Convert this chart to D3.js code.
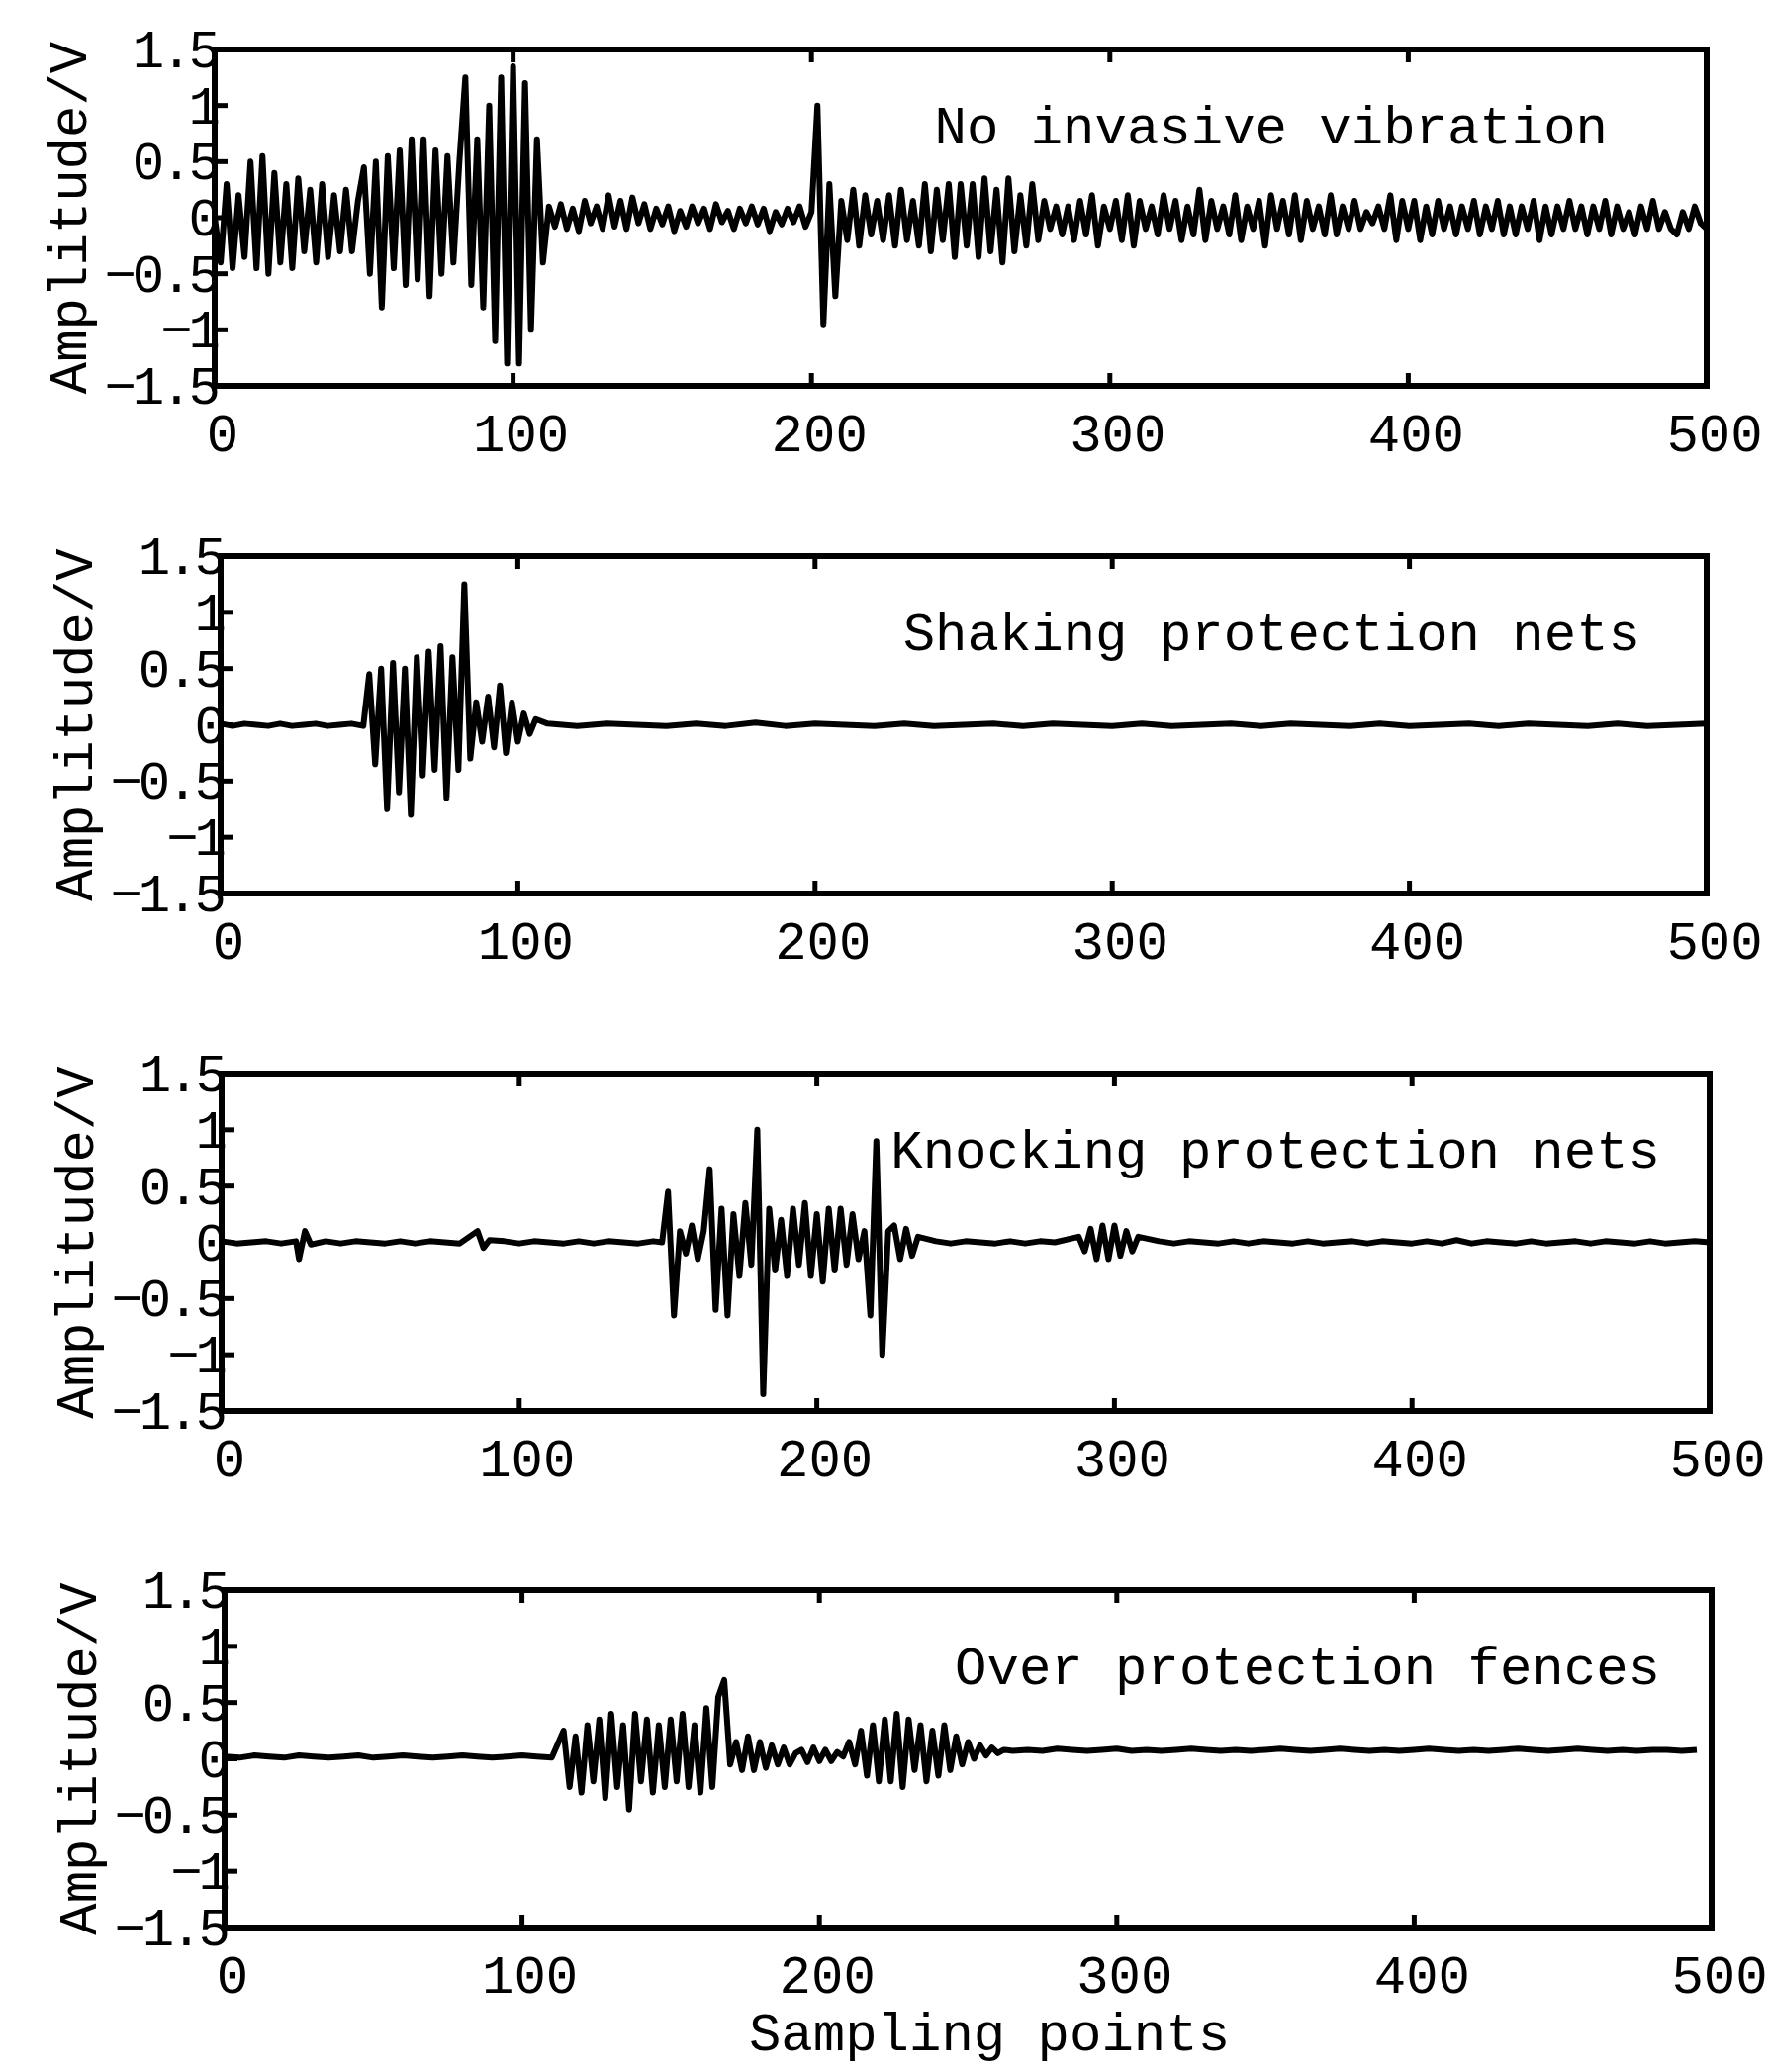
<!DOCTYPE html>
<html lang="en">
<head>
<meta charset="UTF-8">
<title>Vibration signals</title>
<style>
  body { margin: 0; background: #fff; }
  text { font-family: "Liberation Mono", monospace; fill: #000; }
</style>
</head>
<body>
<script src="https://d3js.org/d3.v7.min.js"></script>
<svg id="vis"></svg>
<script>
// Data (amplitudes in hundredths of a volt)
const titles = ['No invasive vibration', 'Shaking protection nets', 'Knocking protection nets', 'Over protection fences']
const xTicks = [0, 100, 200, 300, 400, 500]
const yTicks = [-1.5, -1, -0.5, 0, 0.5, 1, 1.5]
const yTickLabels = ['\u22121.5', '\u22121', '\u22120.5', '0', '0.5', '1', '1.5']

// segments: [start, step, values]
const signal1 = [
  [0, 2, [0,-40,30,-45,20,-35, 50,-45,55,-50,40,
    -40,30,-45,35,-30,25,-40,30,-35,20,-30,25,-30,15,
    45,-50,50,-80,55,-45,60,-60,70,-55,70,-70,60,-50,55,-40,50, 125,-60,
    70,-80,100,-110,125,-130,135,-130,120,-100,70,-40,
    10,-8,12,-10,8,-12,15,-5,10,-10, 20,-8,15,-10,18,-5,12,-10,8,-6,
    10,-12,6,-8,10,-5,8,-10,12,-4, 6,-10,8,-5,10,-6,8,-12,5,-6, 8,-4,10,-8,5,
    100,-95,30,-70,15,
    -20,25,-25,20,-15,15,-20,20,-25,25, -20,15,-25,30,-30,25,-20,30,-35,30,
    -25,30,-35,35,-30,25,-40,35,-30,20, -25,30,-20,15,-10,10,-15,10,-20,15,
    -15,20,-25,10,-10,15,-20,20,-25,15, -10,10,-15,20,-10,15,-20,10,-15,25,
    -20,15,-10,10,-15,20,-20,10,-10,15, -25,20,-10,15,-15,20,-20,15,-10,10,
    -15,20,-15,10,-10,15,-10,5,-5,10, -10,20,-20,15,-10,15,-20,10,-15,15,
    -10,10,-15,10,-10,15,-15,10,-10,15, -15,10,-15,10,-10,15,-20,10,-15,10,
    -10,15,-10,10,-15,10,-10,15,-15,10, -10,5,-15,10,-10,15,-10,5,-10,-15,
    5,-10,10,-5,-10]]
]
const signal2 = [
  [0, 4, [1,-1,1,0,-1,1,-1,0,1,-1,0,1,-1]],
  [50, 2, [45,-35,50,-75,55,-60,50,-80,60,-45,65,-40,70,-65,60,-40,125,-30,20,-15,25,-20,35,-25,20,-15,10,-8,5]],
  [110, 10, [1,-1,1,0,-1,1,-1,2,-1,1,0,-1,1,-1,0,1,-1,1,0,-1,1,-1,0,1,-1,1,0,-1,1,-1,0,1,-1,1,0,-1,1,-1,0,1]]
]
const signal3 = [
  [0, 5, [1,-1,0,1,-1,1]],
  [26, 2, [-15,10,-2]],
  [35, 5, [1,-1,1,0,-1,1,-1,1,0,-1]],
  [86, 2, [10,-5,2]],
  [95, 5, [1,-1,1,0,-1,1,-1,1,0,-1,1]],
  [148, 2, [0,45,-65,10,-10,15,-15,10,65,-60,30,-65,25,-30,35,-20,100,-135,30,-25,20,-30,30,-20,35,-30,25,-35,30,-25,30,-20,25,-15,10,-65,90,-100,10,15,-15,12,-12,5]],
  [240, 5, [1,-1,1,0,-1,1,-1,1,0]],
  [288, 2, [5,-8,12,-15,15,-15,15,-12,10,-8,5]],
  [315, 5, [1,-1,1,0,-1,1,-1,1,0,-1,1,-1,0,1,-1,1,0,-1,1,-1,2,-1,1,0,-1,1,-1,0,1,-1,1,0,-1,1,-1,0,1,0]]
]
const signal4 = [
  [0, 5, [2,1,3,2,1,3,2,1,2,3,1,2,3,2,1,2,3,2,1,2,3,2,1]],
  [114, 2, [25,-25,20,-30,30,-20,35,-35,40,-25,30,-45,40,-20,35,-30,30,-25,35,-20,40,-25,30,-30,45,-25,55,70,-5,
    15,-10,20,-10,15,-8,12,-5,10,-5,5,
    8,-3,10,-2,8,-2,6,2,
    15,-5,25,-15,30,-20,35,-20,40,-25,35,-10,30,-20,25,-15,30,-10,20,-5,15,0,12,3,10,5,8]],
  [265, 5, [7,8,7,9,8,7,8,9,7,8,7,8,9,8,7,8,7,8,9,8,7,8,9,8,7,8,7,8,9,8,7,8,7,8,9,8,7,8,9,8,7,8,7,8,8,7,8]]
]
const signals = [signal1, signal2, signal3, signal4]

// Panel frames (pixels)
const lefts = [217, 223, 224, 227]
const rights = [1725, 1725, 1728, 1730]
const tops = [50, 562, 1085, 1607]
const bottoms = [390, 903, 1426, 1948]
const titleEnds = [1625, 1658, 1678, 1678]
const fontSize = 54

const svg = d3.select('#vis').attr('width', 1788).attr('height', 2094)

function toPoints(segs) {
  const pts = []
  segs.forEach(([start, step, vals]) => vals.forEach((v, i) => pts.push([start + i * step, v / 100])))
  return pts
}

signals.forEach((segs, p) => {
  const x = d3.scaleLinear().domain([0, 500]).range([lefts[p], rights[p]])
  const y = d3.scaleLinear().domain([-1.5, 1.5]).range([bottoms[p], tops[p]])
  const g = svg.append('g')

  g.append('path')
    .datum(toPoints(segs))
    .attr('fill', 'none')
    .attr('stroke', '#000')
    .attr('stroke-width', 6)
    .attr('stroke-linejoin', 'round')
    .attr('d', d3.line().x(d => x(d[0])).y(d => y(d[1])))

  // inward ticks
  const tick = 13
  xTicks.slice(1, -1).forEach(t => {
    g.append('line').attr('x1', x(t)).attr('x2', x(t)).attr('y1', bottoms[p]).attr('y2', bottoms[p] - tick).attr('stroke', '#000').attr('stroke-width', 5)
    g.append('line').attr('x1', x(t)).attr('x2', x(t)).attr('y1', tops[p]).attr('y2', tops[p] + tick).attr('stroke', '#000').attr('stroke-width', 5)
  })
  yTicks.slice(1, -1).forEach(t => {
    g.append('line').attr('x1', lefts[p]).attr('x2', lefts[p] + tick).attr('y1', y(t)).attr('y2', y(t)).attr('stroke', '#000').attr('stroke-width', 5)
  })

  g.append('rect')
    .attr('x', lefts[p]).attr('y', tops[p])
    .attr('width', rights[p] - lefts[p]).attr('height', bottoms[p] - tops[p])
    .attr('fill', 'none').attr('stroke', '#000').attr('stroke-width', 6)

  // tick labels
  g.selectAll('.yl').data(yTicks).enter().append('text')
    .attr('x', lefts[p] + 2).attr('y', d => y(d) + 18)
    .attr('text-anchor', 'end').attr('font-size', fontSize).attr('letter-spacing', -4)
    .text((d, i) => yTickLabels[i])
  g.selectAll('.xl').data(xTicks).enter().append('text')
    .attr('x', d => x(d) + 8).attr('y', bottoms[p] + 66)
    .attr('text-anchor', 'middle').attr('font-size', fontSize)
    .text(d => d)

  g.append('text')
    .attr('transform', `translate(${lefts[p] - 130},${(tops[p] + bottoms[p]) / 2}) rotate(-90)`)
    .attr('text-anchor', 'middle').attr('font-size', fontSize)
    .text('Amplitude/V')

  g.append('text')
    .attr('x', titleEnds[p]).attr('y', tops[p] + 95)
    .attr('text-anchor', 'end').attr('font-size', fontSize)
    .text(titles[p])
})

svg.append('text')
  .attr('x', 1000).attr('y', 2072)
  .attr('text-anchor', 'middle').attr('font-size', fontSize)
  .text('Sampling points')
</script>
</body>
</html>
